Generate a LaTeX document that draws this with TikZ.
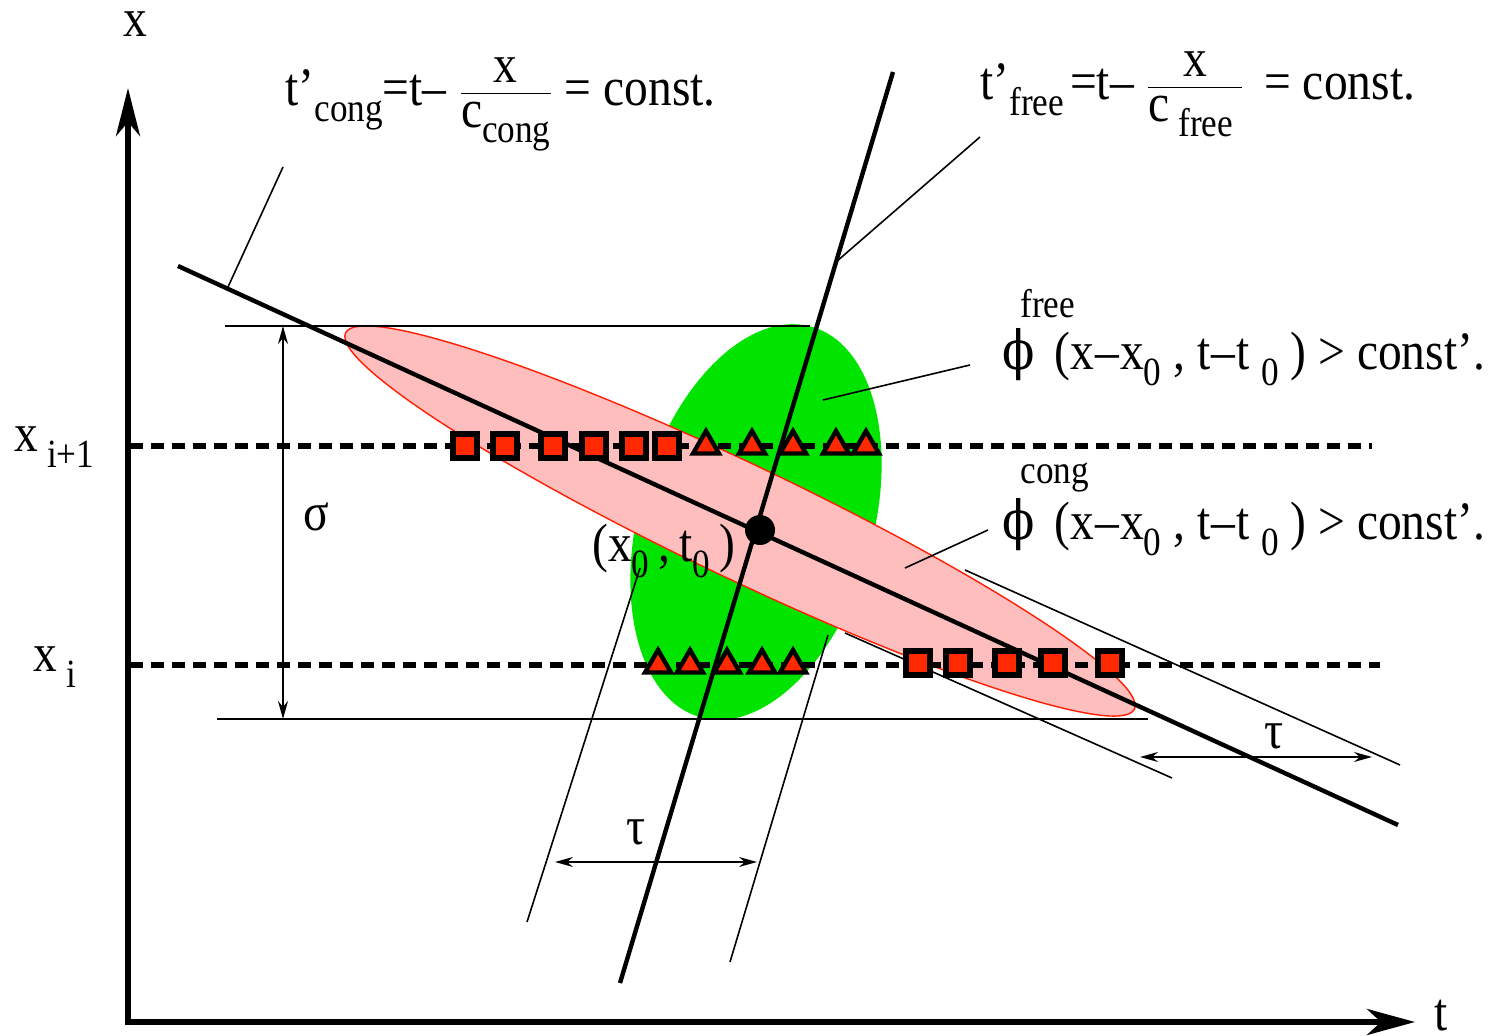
\documentclass[tikz,border=0pt]{standalone}
\usepackage{fontspec}
\setmainfont[FakeStretch=0.88]{Liberation Serif}
\newfontfamily\phifont[FakeStretch=0.88]{DejaVu Serif}
\usetikzlibrary{arrows.meta,shapes.geometric}
\definecolor{pinkfill}{RGB}{255,190,190}
\definecolor{redline}{RGB}{255,30,0}
\definecolor{greenfill}{RGB}{0,228,0}
\definecolor{mkred}{RGB}{255,40,0}
\newcommand{\sbs}[1]{\raisebox{-0.28em}{\fontsize{20}{22}\selectfont #1}}
\newcommand{\smalltxt}{\fontsize{20}{22}\selectfont}
\newcommand{\myfrac}[2]{$\frac{\hbox{\raisebox{2pt}{#1}}}{\hbox{\raisebox{-2pt}{#2}}}$}
\newcommand{\mn}{\kern0.5pt–\kern0.5pt}
\tikzset{
  axis/.style={line width=3pt,{Stealth[length=24pt,width=12pt,inset=7pt]}-{Stealth[length=24pt,width=13pt,inset=7pt]}},
  mainline/.style={line width=2.2pt},
  thinline/.style={line width=0.8pt},
  dimarrow/.style={line width=0.8pt,{Stealth[length=9pt,width=5pt]}-{Stealth[length=9pt,width=5pt]}},
  dashline/.style={line width=3pt,dash pattern=on 6.5pt off 4pt},
  sqmark/.style={draw=black,fill=mkred,line width=3pt,minimum size=12pt,inner sep=0pt,rectangle},
  trimark/.style={draw=black,fill=mkred,line width=2.2pt,regular polygon,regular polygon sides=3,minimum size=15pt,inner sep=0pt},
  lbl/.style={inner sep=0pt,anchor=base west},
}
\begin{document}
\begin{tikzpicture}[x=0.5pt,y=-0.5pt,font=\fontsize{27}{30}\selectfont]
\useasboundingbox (0,0) rectangle (1504,1036);

% coordinates
\coordinate (O) at (128,1022);
\coordinate (Ytip) at (128,88);
\coordinate (Xtip) at (1415,1022);
\coordinate (C1) at (178,266);
\coordinate (C2) at (1398,825);
\coordinate (F1) at (893,72);
\coordinate (F2) at (620,983);
\coordinate (P0) at (760,530);

% green ellipse
\fill[greenfill, rotate around={-16:(756,522)}] (756,522) ellipse (117 and 203);
% pink ellipse
\filldraw[fill=pinkfill, draw=redline, line width=0.7pt, rotate around={-25.5:(740,521)}] (740,521) ellipse (437 and 57);

% axes
\draw[axis] (Ytip) -- (O) -- (Xtip);

% sigma extent lines
\coordinate (Ht1) at (225,326); \coordinate (Ht2) at (810,326);
\coordinate (Hb1) at (217,719); \coordinate (Hb2) at (1148,719);
\draw[thinline] (Ht1) -- (Ht2);
\draw[thinline] (Hb1) -- (Hb2);
\coordinate (S1) at (283,326); \coordinate (S2) at (283,719);
\draw[dimarrow] (S1) -- (S2);

% dashed lines
\coordinate (D1a) at (130,446); \coordinate (D1b) at (1372,446);
\coordinate (D2a) at (130,665); \coordinate (D2b) at (1380,665);
\draw[dashline] (D1a) -- (D1b);
\draw[dashline] (D2a) -- (D2b);

% thin parallel lines (free)
\coordinate (FL1) at (527,922); \coordinate (FL2) at (640,568);
\coordinate (FR1) at (730,962); \coordinate (FR2) at (828,635);
\draw[thinline] (FL1) -- (FL2);
\draw[thinline] (FR1) -- (FR2);
% thin parallel lines (cong)
\coordinate (CU1) at (965,570); \coordinate (CU2) at (1400,765);
\coordinate (CL1) at (845,633); \coordinate (CL2) at (1172,778);
\draw[thinline] (CU1) -- (CU2);
\draw[thinline] (CL1) -- (CL2);

% tau arrows
\coordinate (TA1) at (555,862); \coordinate (TA2) at (757,862);
\coordinate (TB1) at (1140,757); \coordinate (TB2) at (1372,757);
\draw[dimarrow] (TA1) -- (TA2);
\draw[dimarrow] (TB1) -- (TB2);

% main lines
\draw[mainline] (C1) -- (C2);
\draw[mainline] (F1) -- (F2);
\fill (P0) circle (7.5pt);

% leader lines
\coordinate (LC1) at (228,287); \coordinate (LC2) at (283,167);
\coordinate (LF1) at (836,262); \coordinate (LF2) at (980,137);
\coordinate (LP1) at (823,400); \coordinate (LP2) at (970,365);
\coordinate (LQ1) at (905,568); \coordinate (LQ2) at (988,530);
\draw[thinline] (LC1) -- (LC2);
\draw[thinline] (LF1) -- (LF2);
\draw[thinline] (LP1) -- (LP2);
\draw[thinline] (LQ1) -- (LQ2);

% markers upper line
\foreach \xx [count=\i] in {465,505,553,594,634,667}
  \node[sqmark] (us\i) at (\xx,446) {};
\foreach \xx [count=\i] in {706,752,793,836,866}
  \node[trimark] (ut\i) at (\xx,446) {};
% markers lower line
\foreach \xx [count=\i] in {918,958,1007,1053,1110}
  \node[sqmark] (ls\i) at (\xx,663) {};
\foreach \xx [count=\i] in {658,690,727,762,793}
  \node[trimark] (lt\i) at (\xx,665) {};

% labels
\node[inner sep=0pt,anchor=base] (xlab) at (135,37) {x};
\node[inner sep=0pt,anchor=base] (tlab) at (1441,1030) {t};
\node[lbl] (xip) at (14,452) {x\,\sbs{i+1}};
\node[lbl] (xi) at (33,672) {x\,\sbs{i}};
\node (sig) at (316,517) {σ};
\node (tau1) at (636,832) {τ};
\node (tau2) at (1274,736) {τ};
\node[lbl] (x0t0) at (592,562) {(x\sbs{0}\,,\,t\sbs{0}\,)};

\node[lbl] (tcong) at (285,106) {t’\sbs{cong}=t–\hspace{6pt}\myfrac{x}{c\sbs{cong}} = const.};
\node[lbl] (tfree) at (980,100) {t’\sbs{free}\hspace{3pt}=t–\hspace{6pt}\myfrac{x}{c\,\sbs{free}\,}\hspace{4pt} = const.};

\node[lbl] (phif) at (1002,370) {{\phifont ϕ}\hspace{10pt}(x\mn x\sbs{0} , t\mn t \sbs{0} ) > const’.};
\node[lbl] (phifs) at (1020,318) {\smalltxt free};
\node[lbl] (phic) at (1002,540) {{\phifont ϕ}\hspace{10pt}(x\mn x\sbs{0} , t\mn t \sbs{0} ) > const’.};
\node[lbl] (phics) at (1020,484) {\smalltxt cong};
\end{tikzpicture}
\end{document}
